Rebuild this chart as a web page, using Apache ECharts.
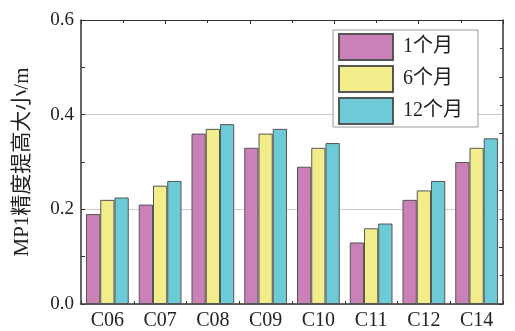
<!DOCTYPE html>
<html><head><meta charset="utf-8">
<script src="https://cdn.jsdelivr.net/npm/echarts@6/dist/echarts.min.js"></script>
<style>html,body{margin:0;padding:0;background:#fff}#c{width:515px;height:331px}</style>
</head><body><div id="c"></div>
<script>
const categories = ['C06','C07','C08','C09','C10','C11','C12','C14'];
const seriesNames = ['1个月','6个月','12个月'];
const month1 = [0.19, 0.21, 0.36, 0.33, 0.29, 0.13, 0.22, 0.30];
const month6 = [0.22, 0.25, 0.37, 0.36, 0.33, 0.16, 0.24, 0.33];
const month12 = [0.225, 0.26, 0.38, 0.37, 0.34, 0.17, 0.26, 0.35];
const yTicks = [0, 0.2, 0.4, 0.6];
const colors = ['#c981b8', '#f2ed8a', '#6ccbd6'];

const FONT = "'Liberation Serif', 'Noto Sans CJK SC', serif";
const axisCol = '#333';
const chart = echarts.init(document.getElementById('c'), null, {renderer: 'canvas'});
const mk = (name, data, i) => ({
  name, type: 'bar', data, xAxisIndex: 0, yAxisIndex: 0,
  barGap: '0%', barCategoryGap: '19%',
  itemStyle: {color: colors[i], borderColor: '#555', borderWidth: 1}
});
chart.setOption({
  animation: false,
  backgroundColor: '#fff',
  grid: {left: 81, right: 12, top: 20, bottom: 27, containLabel: false},
  legend: {
    data: seriesNames, orient: 'vertical', left: 333, top: 30,
    itemWidth: 54, itemHeight: 26, itemGap: 4,
    padding: [3, 15, 2, 5],
    borderColor: '#999', borderWidth: 1, backgroundColor: '#fff',
    icon: 'rect',
    textStyle: {fontFamily: FONT, fontSize: 20, color: '#222', padding: [0, 0, 0, 5]}
  },
  xAxis: [
    {type: 'category', data: categories, position: 'bottom',
     axisLine: {show: true, lineStyle: {color: axisCol, width: 1.5}},
     axisTick: {show: true, inside: true, alignWithLabel: true, length: 5, lineStyle: {color: axisCol}},
     axisLabel: {fontFamily: FONT, fontSize: 20, color: '#222', margin: 7},
     splitLine: {show: false}},
    {type: 'category', data: categories, position: 'bottom',
     axisLine: {show: false},
     axisTick: {show: true, inside: true, length: 3, lineStyle: {color: axisCol}},
     axisLabel: {show: false}, splitLine: {show: false}},
    {type: 'value', position: 'top', min: 0, max: 10, interval: 2,
     axisLine: {show: true, lineStyle: {color: axisCol, width: 1}},
     axisTick: {show: true, inside: true, length: 4, lineStyle: {color: axisCol}},
     minorTick: {show: true, splitNumber: 2, length: 3, lineStyle: {color: axisCol}},
     axisLabel: {show: false}, splitLine: {show: false}}
  ],
  yAxis: [
    {type: 'value', min: yTicks[0], max: yTicks[yTicks.length-1], interval: 0.2, position: 'left',
     name: 'MP1精度提高大小/m', nameLocation: 'middle', nameGap: 48,
     nameTextStyle: {fontFamily: FONT, fontSize: 21, color: '#222'},
     axisLine: {show: true, lineStyle: {color: axisCol, width: 1.5}},
     axisTick: {show: true, inside: true, length: 4, lineStyle: {color: axisCol}},
     minorTick: {show: true, splitNumber: 2, length: 4, lineStyle: {color: axisCol}},
     axisLabel: {fontFamily: FONT, fontSize: 19, color: '#222', margin: 7,
       formatter: v => v.toFixed(1)},
     splitLine: {show: true, lineStyle: {color: '#cccccc', width: 1}}},
    {type: 'value', min: 0, max: 0.6, interval: 0.12, position: 'right',
     axisLine: {show: true, lineStyle: {color: axisCol, width: 1.5}},
     axisTick: {show: true, inside: true, length: 4, lineStyle: {color: axisCol}},
     minorTick: {show: true, splitNumber: 2, length: 3, lineStyle: {color: axisCol}},
     axisLabel: {show: false}, splitLine: {show: false}}
  ],
  series: [mk(seriesNames[0], month1, 0), mk(seriesNames[1], month6, 1), mk(seriesNames[2], month12, 2)]
});
</script></body></html>
